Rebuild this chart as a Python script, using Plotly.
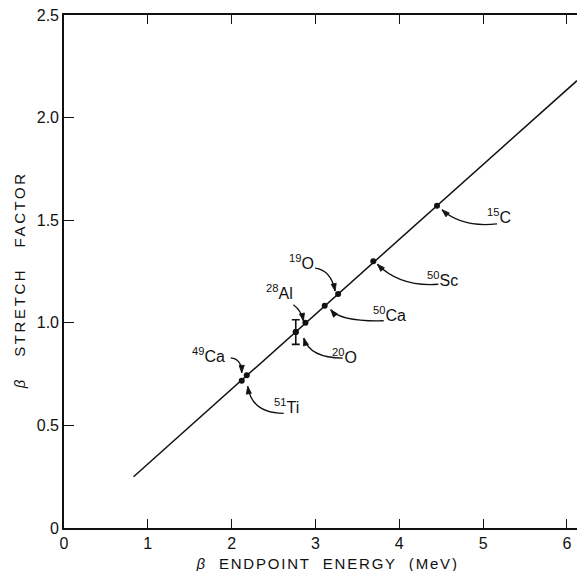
import math
import plotly.graph_objects as go

# ---------------- data ----------------
fit_energy = [0.83, 6.12]
fit_stretch = [0.25, 2.18]

nuclide = ["15C", "50Sc", "19O", "50Ca", "28Al", "20O", "49Ca", "51Ti"]
mass_number = ["15", "50", "19", "50", "28", "20", "49", "51"]
element = ["C", "Sc", "O", "Ca", "Al", "O", "Ca", "Ti"]
energy = [4.45, 3.69, 3.27, 3.11, 2.88, 2.765, 2.12, 2.18]
stretch = [1.57, 1.30, 1.14, 1.083, 1.00, 0.955, 0.717, 0.744]
stretch_err = [0, 0, 0, 0, 0, 0.06, 0, 0]

x_tick_vals = [0, 1, 2, 3, 4, 5, 6]
x_tick_text = ["0", "1", "2", "3", "4", "5", "6"]
y_tick_vals = [0, 0.5, 1.0, 1.5, 2.0, 2.5]
y_tick_text = ["0", "0.5", "1.0", "1.5", "2.0", "2.5"]

# ---------------- layout constants ----------------
W, H = 577, 571
ML, MR, MT, MB = 64, 0, 15, 43
PW, PH = W - ML - MR, H - MT - MB
X_RANGE = [0, 6.12]
Y_RANGE = [0, 2.5]
PX_X = PW / (X_RANGE[1] - X_RANGE[0])
PX_Y = PH / (Y_RANGE[1] - Y_RANGE[0])

FONT = "Liberation Sans, Arial, sans-serif"
BLACK = "#111111"

# label / leader offsets in screen pixels (dx right, dy down) relative to each dot
label_style = {
    "15C":  dict(label=(62, 10),  start=(60, 18),  ctrl=(25, 22),  end=(5, 4)),
    "50Sc": dict(label=(69, 18),  start=(65, 23),  ctrl=(27, 26),  end=(4, 3)),
    "19O":  dict(label=(-37, -32), start=(-23, -26), ctrl=(-7, -24), end=(-3, -3)),
    "50Ca": dict(label=(65, 8),   start=(59, 15),  ctrl=(16, 16),  end=(6, 4)),
    "28Al": dict(label=(-26, -31), start=(-12, -18), ctrl=(-4, -12), end=(-2, -2)),
    "20O":  dict(label=(49, 24),  start=(47, 26),  ctrl=(14, 26),  end=(8, 6)),
    "49Ca": dict(label=(-33, -26), start=(-11, -23), ctrl=(0, -22), end=(0, -8)),
    "51Ti": dict(label=(40, 31),  start=(37, 38),  ctrl=(5, 38),   end=(1, 11)),
}
HEAD_LEN, HEAD_HALF = 7.5, 2.6


def to_data(x0, y0, off):
    return x0 + off[0] / PX_X, y0 - off[1] / PX_Y


fig = go.Figure()

# fitted line
fig.add_trace(go.Scatter(x=fit_energy, y=fit_stretch, mode="lines",
                         line=dict(color=BLACK, width=1.5),
                         hoverinfo="skip", showlegend=False))

# data points
fig.add_trace(go.Scatter(x=energy, y=stretch, mode="markers",
                         marker=dict(color=BLACK, size=6),
                         text=nuclide, showlegend=False))

# error bar (only for points with an uncertainty)
err_idx = [i for i, e in enumerate(stretch_err) if e > 0]
fig.add_trace(go.Scatter(x=[energy[i] for i in err_idx],
                         y=[stretch[i] for i in err_idx],
                         mode="markers",
                         marker=dict(color=BLACK, size=6),
                         error_y=dict(type="data",
                                      array=[stretch_err[i] for i in err_idx],
                                      color=BLACK, thickness=1.6, width=4),
                         showlegend=False))

shapes = []
annotations = []
for i, name in enumerate(nuclide):
    st = label_style[name]
    x0, y0 = energy[i], stretch[i]
    lx, ly = to_data(x0, y0, st["label"])
    sx, sy = to_data(x0, y0, st["start"])
    cx, cy = to_data(x0, y0, st["ctrl"])
    ex, ey = to_data(x0, y0, st["end"])
    shapes.append(dict(type="path", xref="x", yref="y",
                       path=f"M {sx},{sy} Q {cx},{cy} {ex},{ey}",
                       line=dict(color=BLACK, width=1.3)))
    # filled arrow head along the curve tangent at its end
    ux = st["ctrl"][0] - st["end"][0]
    uy = st["ctrl"][1] - st["end"][1]
    n = math.hypot(ux, uy) or 1
    ux, uy = ux / n, uy / n
    px_, py_ = -uy, ux
    bx = st["end"][0] + ux * HEAD_LEN
    by = st["end"][1] + uy * HEAD_LEN
    b1 = to_data(x0, y0, (bx + px_ * HEAD_HALF, by + py_ * HEAD_HALF))
    b2 = to_data(x0, y0, (bx - px_ * HEAD_HALF, by - py_ * HEAD_HALF))
    shapes.append(dict(type="path", xref="x", yref="y",
                       path=f"M {ex},{ey} L {b1[0]},{b1[1]} L {b2[0]},{b2[1]} Z",
                       fillcolor=BLACK, line=dict(color=BLACK, width=0.8)))
    annotations.append(dict(x=lx, y=ly, xref="x", yref="y",
                            text=f"<sup>{mass_number[i]}</sup>{element[i]}",
                            showarrow=False, xanchor="center", yanchor="middle",
                            font=dict(family=FONT, size=16, color=BLACK)))

NB = "\u00a0"
annotations.append(dict(x=0.513, y=0, xref="paper", yref="paper",
                        yshift=-35, showarrow=False,
                        xanchor="center", yanchor="middle",
                        text=f"<i>β</i>{NB*2}ENDPOINT{NB*2}ENERGY{NB*2}(MeV)",
                        font=dict(family=FONT, size=15, color=BLACK)))
annotations.append(dict(x=0, y=0.483, xref="paper", yref="paper",
                        xshift=-45, showarrow=False, textangle=-90,
                        xanchor="center", yanchor="middle",
                        text=f"<i>β</i>{NB*3}STRETCH{NB*3}FACTOR",
                        font=dict(family=FONT, size=15, color=BLACK)))

fig.update_layout(
    width=W, height=H,
    margin=dict(l=ML, r=MR, t=MT, b=MB, pad=0),
    paper_bgcolor="white", plot_bgcolor="white",
    showlegend=False,
    shapes=shapes, annotations=annotations,
    xaxis=dict(range=X_RANGE, tickmode="array", tickvals=x_tick_vals,
               ticktext=x_tick_text, ticks="inside", ticklen=9, tickwidth=1.4,
               tickcolor=BLACK, showline=True, linecolor=BLACK, linewidth=1.6,
               mirror="ticks", showgrid=False, zeroline=False,
               tickfont=dict(family=FONT, size=16, color=BLACK)),
    yaxis=dict(range=Y_RANGE, tickmode="array", tickvals=y_tick_vals,
               ticktext=y_tick_text, ticks="inside", ticklen=10, tickwidth=1.4,
               tickcolor=BLACK, showline=True, linecolor=BLACK, linewidth=1.6,
               showgrid=False, zeroline=False,
               tickfont=dict(family=FONT, size=16, color=BLACK)),
)

post = """
document.body.style.margin='0';
document.body.style.overflow='hidden';
function spaceTitles(){
  document.querySelectorAll('.annotation-text').forEach(function(t){
    var s = t.textContent || '';
    if (s.indexOf('ENDPOINT') >= 0) { t.style.letterSpacing = '1.8px'; }
    if (s.indexOf('STRETCH') >= 0) { t.style.letterSpacing = '2.6px'; }
  });
}
spaceTitles();
var gd = document.getElementById('{plot_id}');
if (gd && gd.on) { gd.on('plotly_afterplot', spaceTitles); }
"""

fig.write_html("out.html", config={"displayModeBar": False}, post_script=post)
